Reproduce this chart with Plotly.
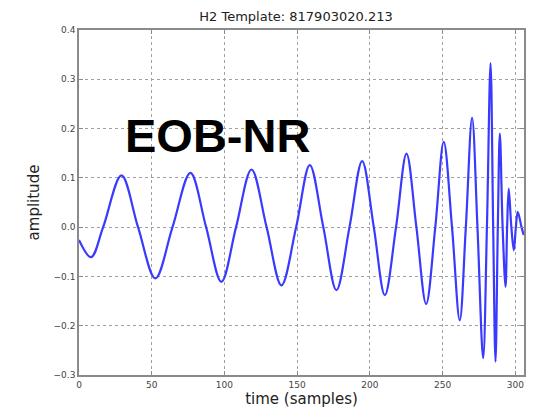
import plotly.graph_objects as go

# Waveform key points (extrema and zero crossings)
time_samples = [0, 8.3, 16.6, 29.2, 40.6, 52.5, 64.3, 76.6, 87.4, 97.9, 108, 118.6,
                129, 139.2, 149.3, 158.7, 168, 177, 186, 194.7, 202.7, 210.3, 218,
                225.2, 232, 238.7, 245, 250.8, 256.5, 261.8, 266, 270.3, 274, 277.9,
                280.5, 283, 284.8, 286.4, 288, 289.4, 291.3, 293.3, 294.4, 295.5,
                297.3, 299, 300.4, 301.7, 304.3, 305.8]
amplitude = [-0.026, -0.061, 0.0, 0.105, 0.0, -0.104, 0.0, 0.110, 0.0, -0.111, 0.0, 0.117,
             0.0, -0.118, 0.0, 0.126, 0.0, -0.128, 0.0, 0.134, 0.0, -0.138, 0.0,
             0.149, 0.0, -0.156, 0.0, 0.173, 0.0, -0.189, 0.0, 0.222, 0.0, -0.266,
             0.0, 0.333, 0.0, -0.273, 0.0, 0.19, 0.0, -0.121, 0.0, 0.078,
             0.0, -0.047, 0.0, 0.031, 0.0, -0.016]

x_ticks = [0, 50, 100, 150, 200, 250, 300]
y_ticks = [-0.3, -0.2, -0.1, 0.0, 0.1, 0.2, 0.3, 0.4]

fig = go.Figure()
fig.add_trace(go.Scatter(
    x=time_samples, y=amplitude, mode="lines",
    line=dict(color="#3a3aff", width=2.2, shape="spline", smoothing=1.0),
    hoverinfo="skip", showlegend=False,
))

axis_common = dict(
    showline=True, linecolor="#8a8a8a", linewidth=1.5, mirror="ticks",
    ticks="inside", ticklen=4, tickcolor="#8a8a8a", tickwidth=1,
    showgrid=True, gridcolor="#a0a0a0", gridwidth=1, griddash="dot",
    zeroline=False, automargin=False,
    tickfont=dict(family="DejaVu Sans", size=9, color="#444"),
)

fig.update_xaxes(range=[0, 306], tickvals=x_ticks,
                 title=dict(text="time (samples)", standoff=2,
                            font=dict(family="DejaVu Sans", size=15, color="#222")),
                 **axis_common)
fig.update_yaxes(range=[-0.3, 0.4], tickvals=y_ticks, tickformat=".1f",
                 title=dict(text="amplitude", standoff=10,
                            font=dict(family="DejaVu Sans", size=15, color="#222")),
                 **axis_common)

fig.add_annotation(text="<b>EOB-NR</b>", xref="paper", yref="paper",
                   x=(217 - 79) / 445, y=(375 - 135) / 345,
                   xanchor="center", yanchor="middle", showarrow=False,
                   font=dict(family="Liberation Sans", size=47, color="black"))

fig.update_layout(
    width=533, height=409,
    margin=dict(l=79, r=9, t=30, b=34),
    paper_bgcolor="white", plot_bgcolor="white",
    title=dict(text="H2 Template: 817903020.213", x=(296 - 0) / 533, xanchor="center",
               y=1 - 16 / 409, yanchor="middle",
               font=dict(family="DejaVu Sans", size=13, color="#222")),
)

fig.write_html("out.html", include_plotlyjs=True,
               config={"displayModeBar": False},
               post_script="document.body.style.margin='0';")
